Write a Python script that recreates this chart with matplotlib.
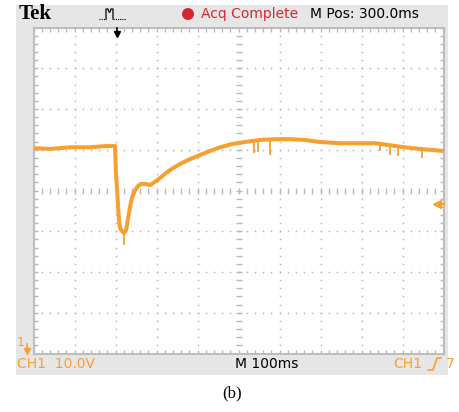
import numpy as np
import matplotlib
matplotlib.use("Agg")
import matplotlib.pyplot as plt
from matplotlib.patches import Rectangle, Circle
from matplotlib.ticker import MultipleLocator

# trace: time in ms from left edge, volts (10 V/div, ground at bottom)
time_ms = [0, 40, 89, 138, 174, 199, 200, 201, 204, 206, 209, 211, 216, 221, 226,
           230, 235, 240, 248, 255, 262, 274, 284, 296, 309, 323, 340, 357, 382,
           406, 430, 455, 484, 516, 552, 589, 626, 662, 699, 748, 796, 833, 870,
           906, 943, 1000]
volts = [50.4, 50.2, 50.6, 50.6, 50.9, 50.9, 47.5, 44.5, 40.1, 36.4, 32.3, 30.8,
         30.0, 29.6, 30.3, 32.8, 35.7, 38.2, 40.1, 41.1, 41.6, 41.6, 41.3, 42.1,
         43.1, 44.3, 45.5, 46.5, 47.7, 48.7, 49.7, 50.6, 51.4, 51.9, 52.4, 52.6,
         52.6, 52.4, 51.9, 51.6, 51.6, 51.6, 51.1, 50.6, 50.2, 49.7]
# short glitches on the trace
spike_t = [221, 538, 548, 577, 845, 870, 889, 948]
spike_lo = [26.6, 49.2, 49.4, 48.7, 49.6, 48.7, 48.5, 48.0]

time_per_div = 100
volt_per_div = 10
n_xdiv, n_ydiv = 10, 8

orange = "#F7A030"
grid_c = "#B8B8B8"
sans = ["DejaVu Sans"]

W, H = 459, 412
fig = plt.figure(figsize=(W / 100, H / 100), dpi=100)
fig.patch.set_facecolor("white")

# background panel
bg = fig.add_axes([0, 0, 1, 1], zorder=0)
bg.set_xlim(0, W)
bg.set_ylim(H, 0)
bg.axis("off")
bg.add_patch(Rectangle((16, 5), 432, 370, color="#E6E6E6", lw=0))

# screen
ax = fig.add_axes([33.5 / W, 1 - 353.5 / H, 410 / W, 326 / H], zorder=1)
xmax = time_per_div * n_xdiv
ymax = volt_per_div * n_ydiv
ax.set_xlim(0, xmax)
ax.set_ylim(0, ymax)
ax.set_facecolor("white")
for s in ax.spines.values():
    s.set_color("#BDBDBD")
    s.set_linewidth(1.5)
ax.xaxis.set_major_locator(MultipleLocator(time_per_div))
ax.xaxis.set_minor_locator(MultipleLocator(time_per_div / 5))
ax.yaxis.set_major_locator(MultipleLocator(volt_per_div))
ax.yaxis.set_minor_locator(MultipleLocator(volt_per_div / 5))
ax.tick_params(which="both", direction="in", length=3, width=1, color=grid_c,
               top=True, right=True, labelbottom=False, labelleft=False)

# graticule
fine_t = np.arange(time_per_div / 5, xmax, time_per_div / 5)
fine_v = np.arange(volt_per_div / 5, ymax, volt_per_div / 5)
for k in range(1, n_xdiv):
    tx = k * time_per_div
    if k == n_xdiv // 2:
        ax.plot(np.full_like(fine_v, tx), fine_v, ls="none", marker="_", ms=4,
                mew=1.0, color=grid_c)
    else:
        ax.plot(np.full_like(fine_v, tx), fine_v, ls="none", marker="s", ms=1.1,
                mew=0, color=grid_c)
for j in range(1, n_ydiv):
    vy = j * volt_per_div
    if j == n_ydiv // 2:
        ax.plot(fine_t, np.full_like(fine_t, vy), ls="none", marker="|", ms=4,
                mew=1.0, color=grid_c)
    else:
        ax.plot(fine_t, np.full_like(fine_t, vy), ls="none", marker="s", ms=1.1,
                mew=0, color=grid_c)

# trace
ax.plot(time_ms, volts, color=orange, lw=2.9, solid_joinstyle="round", zorder=3)
base = np.interp(spike_t, time_ms, volts)
ax.vlines(spike_t, spike_lo, base, color=orange, lw=1.3, zorder=3)

# overlay text and markers
fg = fig.add_axes([0, 0, 1, 1], zorder=2)
fg.set_xlim(0, W)
fg.set_ylim(H, 0)
fg.axis("off")
fg.patch.set_alpha(0)

fg.text(19, 14, "Tek", fontsize=15, fontweight="bold", family="Liberation Serif",
        va="center", ha="left")
# trigger icon
fg.plot([99, 106], [19, 19], color="black", lw=0.8, ls=(0, (1, 1)))
fg.plot([106, 106, 108, 109, 110, 111, 113, 113], [19, 9, 9, 12, 12, 9, 9, 19],
        color="black", lw=0.9)
fg.plot([113, 126], [19, 19], color="black", lw=0.8, ls=(0, (1, 1)))
fg.plot([117, 117], [28, 33], color="black", lw=1.2)
fg.plot([117], [34], marker="v", ms=5, color="black")

fg.add_patch(Circle((188, 14), 6, color="#D12A2E", lw=0))
fg.text(201, 14, "Acq Complete", fontsize=10, family=sans, color="#D12A2E",
        va="center", ha="left")
fg.text(310, 14, "M Pos: 300.0ms", fontsize=10, family=sans, color="black",
        va="center", ha="left")

# bottom status line
fg.text(17, 364, "CH1  10.0V", fontsize=10, family=sans, color=orange,
        va="center", ha="left")
fg.text(267, 364, "M 100ms", fontsize=10, family=sans, color="black",
        va="center", ha="center")
fg.text(393, 364, "CH1", fontsize=10, family=sans, color=orange,
        va="center", ha="left")
fg.plot([428, 433, 437, 441], [370, 370, 358, 358], color=orange, lw=1.2)
fg.text(446, 364, "7", fontsize=10, family=sans, color=orange,
        va="center", ha="left")

# ground marker and trigger level
fg.text(17, 342, "1", fontsize=9, family=sans, color=orange, va="center", ha="left")
fg.plot([27, 27], [344, 350], color=orange, lw=1.2)
fg.plot([27], [351], marker="v", ms=4, color=orange)
fg.plot([437, 444], [204, 204], color=orange, lw=1.5)
fg.plot([437], [204], marker="<", ms=6, color=orange)

fg.text(232, 393, "(b)", fontsize=12, family="Liberation Serif", va="center",
        ha="center")

fig.savefig("out.png", dpi=100)
